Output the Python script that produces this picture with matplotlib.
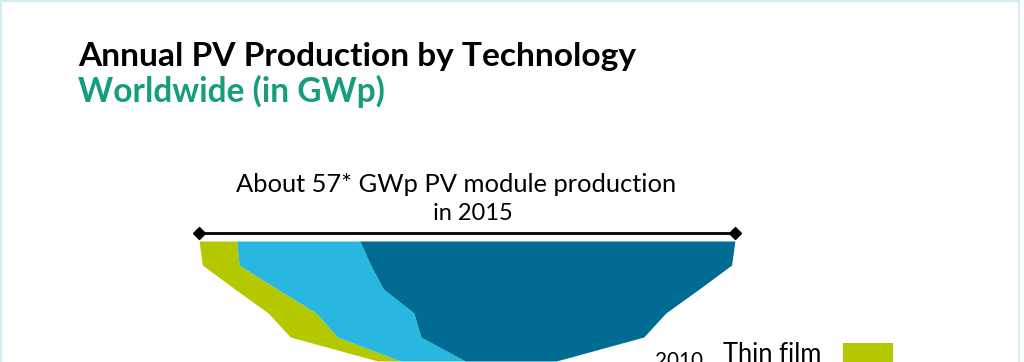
import matplotlib
matplotlib.use("Agg")
import matplotlib.pyplot as plt
from matplotlib.patches import Rectangle
import numpy as np

# ---- data (GWp) ----
years = [2010, 2011, 2012, 2013, 2014, 2015]
thin_film = [2.4, 5.0, 5.1, 4.5, 3.9, 4.0]
mono_si = [6.9, 8.9, 10.4, 11.3, 14.0, 13.1]
multi_si = [9.7, 23.7, 26.8, 33.6, 38.4, 39.9]
series_names = ["Thin film", "Mono-Si", "Multi-Si"]
series_colors = ["#b4c800", "#27b7e1", "#006c94"]

title = "Annual PV Production by Technology"
subtitle = "Worldwide (in GWp)"
note_line1 = "About 57* GWp PV module production"
note_line2 = "in 2015"
total_2015 = 57
year_label = "2010"

W, H = 1024, 362
fig = plt.figure(figsize=(W / 100, H / 100), dpi=100)
fig.patch.set_facecolor("white")

# ---- funnel axes: 2015 at pixel row 241, 2010 at pixel row 361 ----
px_per_gw = 9.40
cx = 467
top_px, bot_px = 241, 361
ax = fig.add_axes([0, 1 - bot_px / H, 1, (bot_px - top_px) / H])
ax.set_xlim((0 - cx) / px_per_gw, (W - cx) / px_per_gw)
ax.set_ylim(2010, 2015)
ax.axis("off")

yrs = np.array(years, dtype=float)
stack = [np.array(thin_film), np.array(mono_si), np.array(multi_si)]
total = sum(stack)
left = -total / 2
for vals, col in zip(stack, series_colors):
    ax.fill_betweenx(yrs, left, left + vals, color=col, lw=0, clip_on=False)
    left = left + vals

# span line for 2015 production
y_line = 2015 + 8 / 24
ax.plot([-total_2015 / 2, total_2015 / 2], [y_line, y_line], color="black",
        lw=2, marker="D", markersize=6, clip_on=False)

# ---- texts ----
renderer = fig.canvas.get_renderer()


def fitted_text(x_px, base_px, s, width_px, ha="left", **kw):
    t = fig.text(x_px / W, 1 - base_px / H, s, ha=ha, va="baseline",
                 fontsize=16, **kw)
    for _ in range(3):
        wd = t.get_window_extent(renderer=renderer).width
        t.set_fontsize(t.get_fontsize() * width_px / wd)
    return t


fitted_text(78, 66, title, 557, fontfamily="Lato", fontweight="bold",
            color="black")
fitted_text(78, 102, subtitle, 307, fontfamily="Lato", fontweight="bold",
            color="#179c7d")
fitted_text(456, 192, note_line1, 440, ha="center", fontfamily="Lato",
            color="black")
fitted_text(473, 220, note_line2, 80, ha="center", fontfamily="Lato",
            color="black")
fitted_text(655, 367, year_label, 48, fontfamily="Lato", color="black")
fitted_text(723, 362, series_names[0], 99, fontfamily="Lato", color="black")

# legend swatch
fig.patches.append(Rectangle((843 / W, 1 - 393 / H), 50 / W, 50 / H,
                             transform=fig.transFigure, color=series_colors[0],
                             lw=0))
# light frame
fig.patches.append(Rectangle((1 / W, -0.05), 1018 / W, 1.05 - 1 / H,
                             transform=fig.transFigure, fill=False,
                             edgecolor="#d3ebf1", lw=1.5))

fig.savefig("out.png", dpi=100, facecolor="white")
